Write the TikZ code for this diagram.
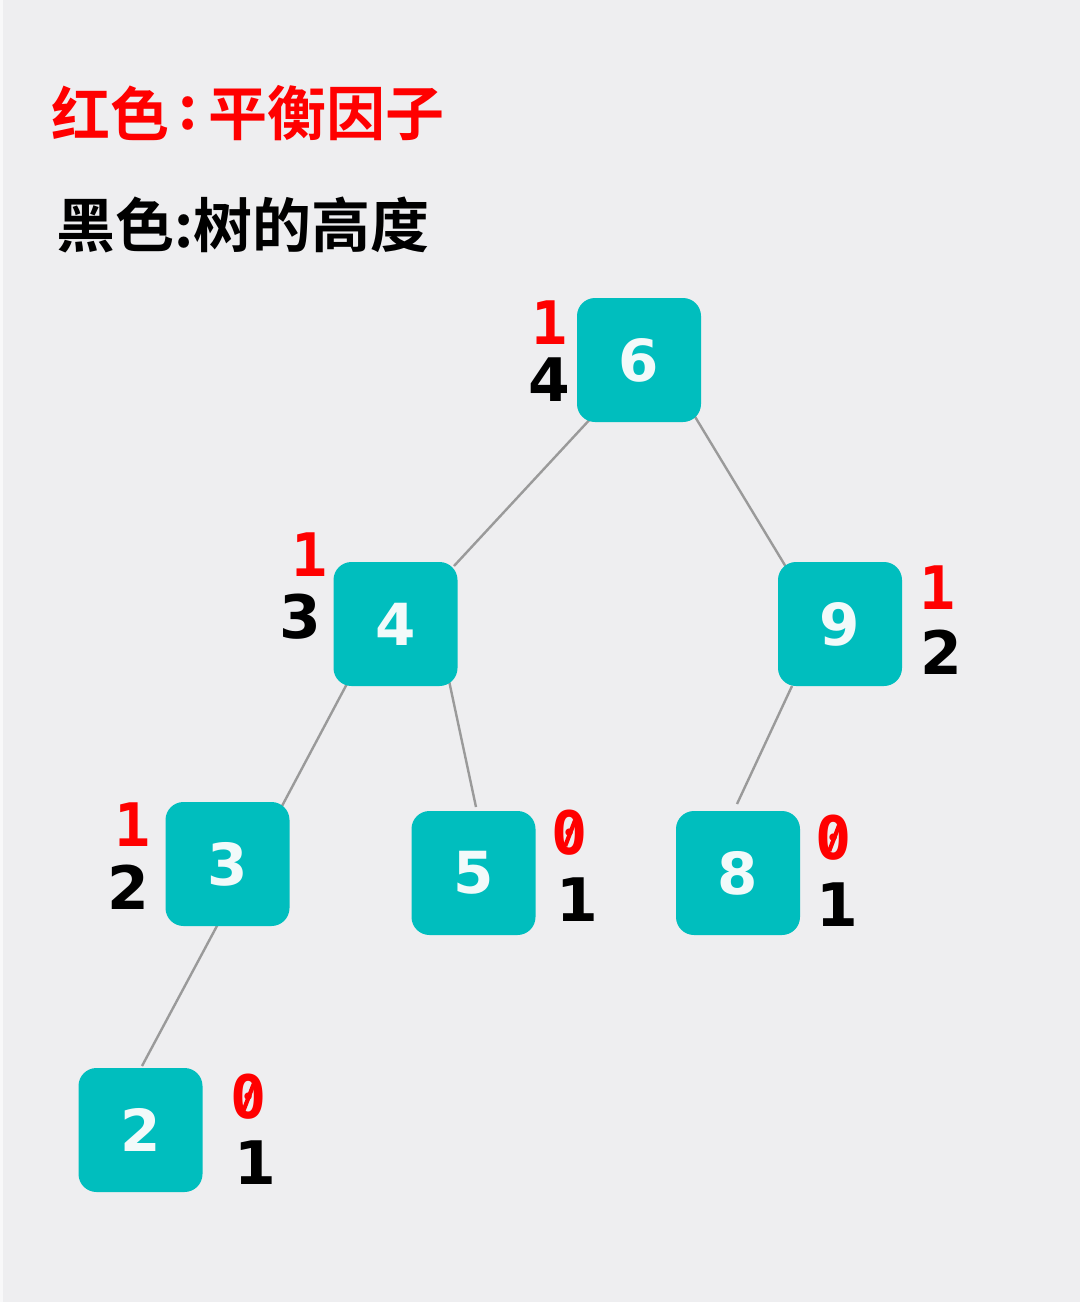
\documentclass[tikz,border=0pt]{standalone}
\usepackage{fontspec}
\newfontfamily\cjk{Noto Sans CJK SC}[BoldFont={* Bold}]
\newfontfamily\numfont{DejaVu Sans}
\newfontfamily\monofont{DejaVu Sans Mono}
\usetikzlibrary{calc,backgrounds}
\definecolor{bggray}{HTML}{EEEEF0}
\definecolor{teal2}{HTML}{00BEBE}
\definecolor{edgegray}{HTML}{9A9A9A}
\definecolor{nodetext}{HTML}{F2FAFA}
\tikzset{
  treenode/.style={rectangle, rounded corners=18pt, minimum size=124pt, inner sep=0pt,
    fill=teal2, text=nodetext, font=\numfont\bfseries\fontsize{58}{70}\selectfont},
  factor/.style={inner sep=0pt, text=red, font=\monofont\bfseries\fontsize{60}{72}\selectfont},
  szero/.style={factor, path picture={
    \draw[red, line width=4.2pt]
      ($(path picture bounding box.center)+(-4.8,13)$) --
      ($(path picture bounding box.center)+(5.2,-13)$);}},
  height/.style={inner sep=0pt, text=black, font=\numfont\bfseries\fontsize{60}{72}\selectfont},
  title/.style={inner sep=0pt, font=\cjk\bfseries\fontsize{59}{70}\selectfont},
  edge/.style={draw=edgegray, line width=2.4pt}
}
\begin{document}
\begin{tikzpicture}[x=1pt,y=-1pt]
\useasboundingbox (0,0) rectangle (1080,1302);
\begin{scope}[on background layer]
\fill[white!60!bggray] (0,0) rectangle (1080,1302);
\fill[bggray] (3,0) rectangle (1080,1302);
\end{scope}
% titles
\node[title, text=red, anchor=west] (t1a) at (51,113) {红色};
\node[title, text=red] (t1b) at (188,113) {:};
\node[title, text=red, anchor=west] (t1c) at (208,113) {平衡因子};
\node[title, text=black, anchor=west] (t2) at (56,225) {黑色:树的高度};
% nodes
\node[treenode] (n6) at (639,360) {6};
\node[treenode] (n4) at (395.5,624) {4};
\node[treenode] (n9) at (840,624) {9};
\node[treenode] (n3) at (227.5,864) {3};
\node[treenode] (n5) at (473.5,873) {5};
\node[treenode] (n8) at (738,873) {8};
\node[treenode] (n2) at (140.5,1130) {2};
% edges
\begin{scope}[on background layer]
\draw[edge] ($(n6.center)+(-46,56)$) -- ($(n4.center)+(58.5,-58)$);
\draw[edge] ($(n6.center)+(55,55)$) -- ($(n9.center)+(-54,-57)$);
\draw[edge] ($(n4.center)+(-46.5,56)$) -- ($(n3.center)+(54.5,-58)$);
\draw[edge] ($(n4.center)+(52.5,52)$) -- ($(n5.center)+(2.5,-66)$);
\draw[edge] ($(n9.center)+(-48,62)$) -- ($(n8.center)+(-1,-69)$);
\draw[edge] ($(n3.center)+(-9.5,60)$) -- ($(n2.center)+(1.5,-64)$);
\end{scope}
% labels
\node[factor] (f6) at (550,323) {1};
\node[height] (h6) at (549,380) {4};
\node[factor] (f4) at (310,555) {1};
\node[height] (h4) at (300,617) {3};
\node[factor] (f9) at (938,588) {1};
\node[height] (h9) at (941,652) {2};
\node[factor] (f3) at (133,825) {1};
\node[height] (h3) at (128,887) {2};
\node[szero] (f5) at (570,833) {0};
\node[height] (h5) at (577,900) {1};
\node[szero] (f8) at (834,838) {0};
\node[height] (h8) at (837,905) {1};
\node[szero] (f2) at (248.5,1097) {0};
\node[height] (h2) at (255.5,1163) {1};
\end{tikzpicture}
\end{document}
